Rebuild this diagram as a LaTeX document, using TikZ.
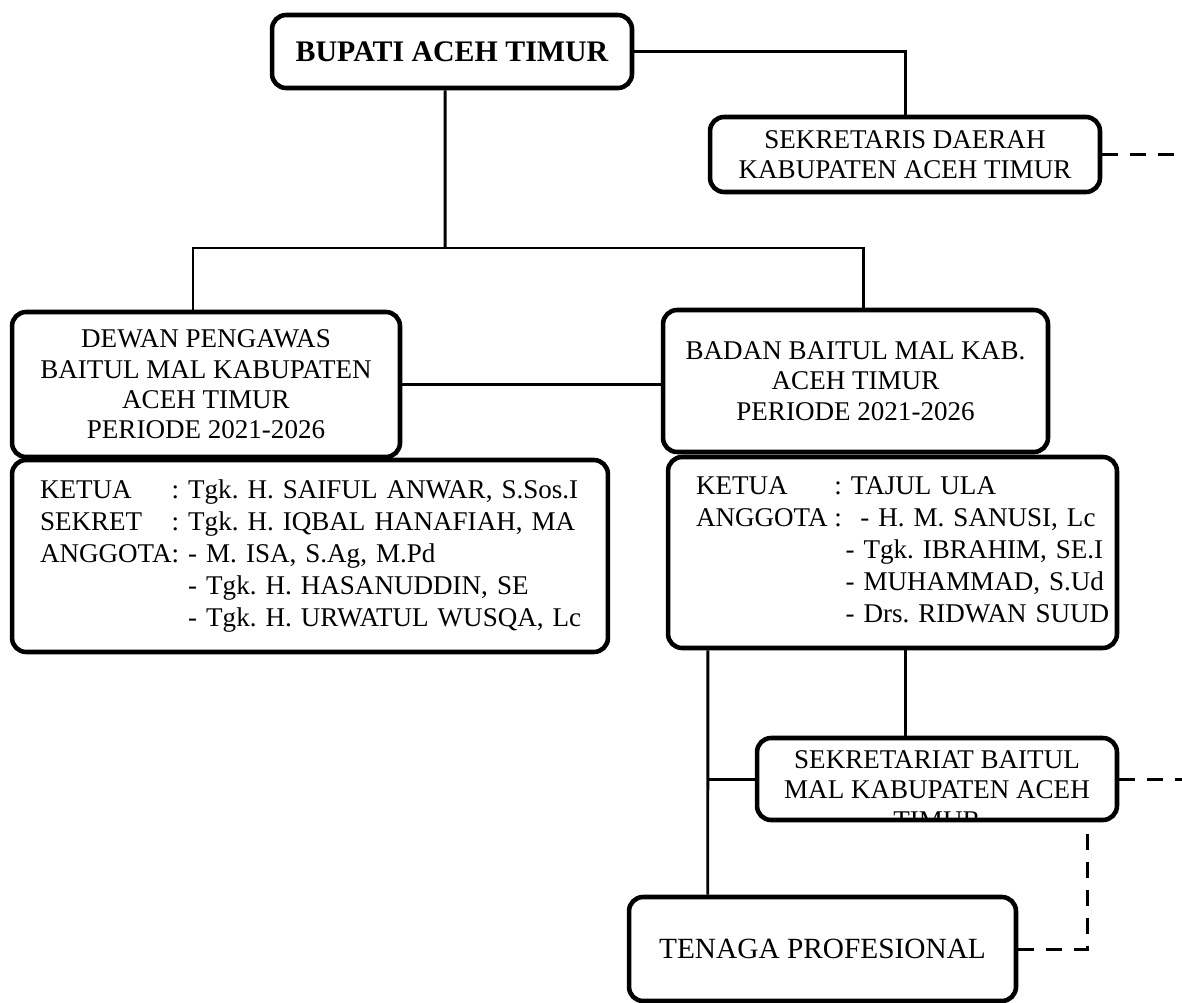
\documentclass[tikz,border=0pt]{standalone}
\usepackage{fontspec}
\setmainfont{Liberation Serif}
\frenchspacing
\tikzset{
  orgbox/.style={rectangle,rounded corners=8pt,draw=black,line width=2.6pt,fill=white,
    align=center,font=\fontsize{15.4}{17.3}\selectfont},
  listbox/.style={orgbox,align=left,inner xsep=0.56cm,font=\fontsize{15.4}{18.2}\selectfont},
  link/.style={line width=1.7pt,draw=black},
  dashlink/.style={link,dash pattern=on 0.32cm off 0.24cm}
}

\begin{document}
\begin{tikzpicture}[x=0.02cm,y=-0.02cm]
\useasboundingbox (0,0) rectangle (1182,1003);
% pimpinan daerah
\node[orgbox,minimum width=7.2cm,minimum height=1.46cm,font=\fontsize{17}{19}\selectfont\bfseries] (bupati) at (452,51.5) {BUPATI ACEH TIMUR};
\node[orgbox,minimum width=7.8cm,minimum height=1.5cm] (sekda) at (905,154.5) {SEKRETARIS DAERAH\\KABUPATEN ACEH TIMUR};
% baitul mal
\node[orgbox,minimum width=7.76cm,minimum height=2.9cm] (dewan) at (206,384.5) {DEWAN PENGAWAS\\BAITUL MAL KABUPATEN\\ACEH TIMUR\\PERIODE 2021-2026};
\node[orgbox,minimum width=7.7cm,minimum height=2.84cm] (badan) at (855.5,381) {BADAN BAITUL MAL KAB.\\ACEH TIMUR\\PERIODE 2021-2026};
\node[listbox,minimum height=3.84cm,text width=10.8cm] (dewanlist) at (310,556) {%
  \begin{tabular}{@{}l@{}l@{}}
  KETUA & : Tgk. H. SAIFUL ANWAR, S.Sos.I\\
  SEKRET & : Tgk. H. IQBAL HANAFIAH, MA\\
  ANGGOTA & : - M. ISA, S.Ag, M.Pd\\
  & \phantom{:\ }- Tgk. H. HASANUDDIN, SE\\
  & \phantom{:\ }- Tgk. H. URWATUL WUSQA, Lc
  \end{tabular}};
\node[listbox,minimum height=3.82cm,text width=7.86cm] (badanlist) at (892.5,552.5) {%
  \begin{tabular}{@{}l@{\hspace{0.25em}}l@{}}
  KETUA & : TAJUL ULA\\
  ANGGOTA & :\hspace{0.68em}- H. M. SANUSI, Lc\\
  & \hspace{0.41em}- Tgk. IBRAHIM, SE.I\\
  & \hspace{0.41em}- MUHAMMAD, S.Ud\\
  & \hspace{0.41em}- Drs. RIDWAN SUUD
  \end{tabular}};
% sekretariat (teks terpotong oleh kotak)
\node[orgbox,minimum width=7.2cm,minimum height=1.64cm] (sekret) at (937,779) {};
\begin{scope}
  \clip ([yshift=0.1cm]sekret.south west) rectangle (sekret.north east);
  \node[align=center,font=\fontsize{15.4}{17.3}\selectfont] (sekrettext) at (937,790) {SEKRETARIAT BAITUL\\MAL KABUPATEN ACEH\\TIMUR};
\end{scope}
\node[orgbox,minimum width=7.74cm,minimum height=2.08cm,font=\fontsize{16.7}{19}\selectfont] (tenaga) at (822.5,949) {TENAGA PROFESIONAL};
% garis komando
\coordinate (split) at (445,248);
\draw[link] (bupati.east) -| (sekda.north);
\draw[link] ([xshift=-0.14cm]bupati.south) -- (split);
\draw[link] ([xshift=-0.26cm]dewan.north) |- (split) -| ([xshift=0.15cm]badan.north);
\draw[link] (dewan.east) -- (dewan.east -| badan.west);
\draw[link] ([xshift=0.84cm]badanlist.south west) -- ([xshift=1.62cm]tenaga.north west);
\draw[link] (sekret.west) -- ++(-0.94cm,0);
\draw[link] ([xshift=-0.64cm]sekret.north) -- ([xshift=-0.64cm]sekret.north |- badanlist.south);
% garis koordinasi
\draw[dashlink] (sekda.east) -- ++(1.64cm,0);
\draw[dashlink] (sekret.east) -- ++(1.3cm,0);
\draw[dashlink] (tenaga.east) -| ([xshift=-0.64cm]sekret.south east);
\end{tikzpicture}
\end{document}
